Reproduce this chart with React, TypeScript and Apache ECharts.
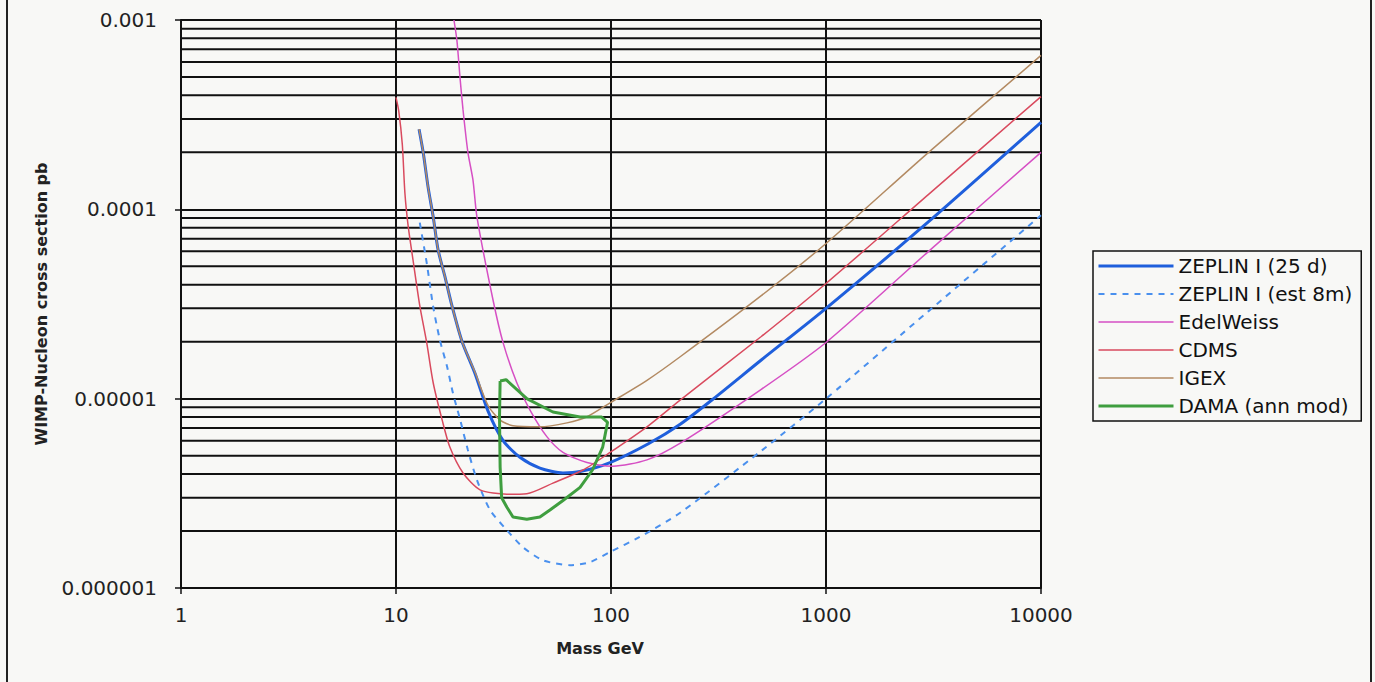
import React, { useEffect, useRef } from "react";
import * as echarts from "echarts";

// Axis tick values
const xTicks = [1, 10, 100, 1000, 10000];
const yTicks = [0.000001, 0.00001, 0.0001, 0.001];
const minorDecades = [0.000001, 0.00001, 0.0001];
const minorMultipliers = [2, 3, 4, 5, 6, 7, 8, 9];

const seriesNames = [
  "ZEPLIN I (25 d)",
  "ZEPLIN I (est 8m)",
  "EdelWeiss",
  "CDMS",
  "IGEX",
  "DAMA (ann mod)",
];

// [mass GeV, cross section pb]
const zeplin25d = [
  [12.8, 2.65e-4], [13.4, 1.98e-4], [14.1, 1.31e-4], [14.9, 9.1e-5], [15.7, 6.1e-5],
  [16.9, 4.4e-5], [18.2, 3.1e-5], [20.3, 2.0e-5], [23.3, 1.36e-5], [26.8, 8.6e-6],
  [31.5, 6.0e-6], [37.7, 4.9e-6], [46.7, 4.3e-6], [59.8, 4.05e-6], [71.8, 4.12e-6],
  [99, 4.6e-6], [150, 5.8e-6], [209, 7.3e-6], [300, 1.0e-5], [500, 1.6e-5],
  [1000, 3.0e-5], [3000, 8.6e-5], [10000, 2.88e-4],
];

const zeplin8m = [
  [12.9, 8.5e-5], [13.9, 5.2e-5], [14.9, 3.05e-5], [16.0, 2.04e-5], [17.3, 1.47e-5],
  [18.4, 1.07e-5], [19.9, 7.7e-6], [21.6, 5.35e-6], [23.8, 3.72e-6], [27.4, 2.58e-6],
  [32.8, 2.02e-6], [39.0, 1.64e-6], [48.3, 1.4e-6], [64.5, 1.32e-6], [79.9, 1.37e-6],
  [99, 1.55e-6], [136, 1.86e-6], [209, 2.49e-6], [500, 5.3e-6], [1000, 1.0e-5],
  [3000, 2.9e-5], [10000, 9.3e-5],
];

const edelweiss = [
  [18.6, 1.0e-3], [19.2, 7.8e-4], [19.9, 4.8e-4], [20.5, 3.35e-4], [21.6, 2.0e-4],
  [22.8, 1.43e-4], [23.8, 9.1e-5], [28.3, 3.3e-5], [31.5, 1.97e-5], [36.5, 1.21e-5],
  [42.0, 8.7e-6], [50.3, 6.3e-6], [59.8, 5.2e-6], [77.3, 4.6e-6], [102, 4.4e-6],
  [147, 4.75e-6], [209, 5.8e-6], [500, 1.12e-5], [1000, 1.98e-5], [3000, 6.0e-5],
  [10000, 2.0e-4],
];

const cdms = [
  [10.0, 3.9e-4], [10.3, 3.3e-4], [10.7, 2.2e-4], [11.0, 1.22e-4], [11.4, 8.1e-5],
  [12.0, 5.4e-5], [12.9, 3.1e-5], [13.9, 1.97e-5], [14.9, 1.21e-5], [16.4, 7.7e-6],
  [17.8, 5.55e-6], [20.5, 4.05e-6], [24.6, 3.3e-6], [32.8, 3.13e-6], [40.6, 3.15e-6],
  [53.7, 3.58e-6], [74.1, 4.2e-6], [99, 5.2e-6], [147, 7.1e-6], [209, 9.8e-6],
  [500, 2.13e-5], [1000, 4.06e-5], [3000, 1.2e-4], [10000, 3.94e-4],
];

const igex = [
  [12.8, 2.65e-4], [13.4, 1.98e-4], [14.1, 1.31e-4], [14.9, 9.1e-5], [15.7, 6.1e-5],
  [16.9, 4.4e-5], [18.2, 3.1e-5], [20.3, 2.0e-5], [23.3, 1.38e-5], [26.8, 9.2e-6],
  [30.5, 7.7e-6], [35, 7.2e-6], [46.7, 7.1e-6], [62.4, 7.45e-6], [77, 8.0e-6],
  [99, 9.5e-6], [147, 1.25e-5], [209, 1.66e-5], [500, 3.5e-5], [1000, 6.6e-5],
  [3000, 2.0e-4], [10000, 6.5e-4],
];

const dama = [
  [30.5, 1.24e-5], [32.5, 1.26e-5], [40.6, 1.0e-5], [53.7, 8.5e-6], [71.8, 8.0e-6],
  [90.5, 8.0e-6], [96.4, 7.5e-6], [91.5, 5.55e-6], [82, 4.2e-6], [71.8, 3.4e-6],
  [59.8, 2.9e-6], [52, 2.58e-6], [46.7, 2.37e-6], [40.6, 2.31e-6], [35, 2.37e-6],
  [32.8, 2.67e-6], [31, 3.0e-6], [30.5, 4.35e-6], [30.3, 8.0e-6], [30.5, 1.24e-5],
];

const FONT = "DejaVu Sans";
const GRID_W = 2;

export default function App() {
  const ref = useRef<HTMLDivElement>(null);

  useEffect(() => {
    const chart = echarts.init(ref.current as HTMLDivElement, null, { renderer: "svg" });
    const xMin = xTicks[0];
    const xMax = xTicks[xTicks.length - 1];
    // Minor horizontal gridlines (2..9 of each decade), drawn through the axes
    const minorGridSeries = minorDecades.flatMap((d) =>
      minorMultipliers.map((m) => {
        const v = Number((d * m).toPrecision(3));
        return {
          type: "line",
          name: "grid-" + v,
          data: [[xMin, v], [xMax, v]],
          showSymbol: false,
          symbol: "none",
          silent: true,
          z: 1,
          lineStyle: { color: "#111", width: GRID_W },
          emphasis: { disabled: true },
          tooltip: { show: false },
        };
      })
    );
    const lineBase = {
      type: "line",
      showSymbol: false,
      symbol: "none",
      clip: true,
      z: 3,
    };
    chart.setOption({
      animation: false,
      backgroundColor: "#f8f8f6",
      textStyle: { fontFamily: FONT },
      grid: { left: 181, right: 334, top: 20, bottom: 94, containLabel: false },
      legend: {
        data: seriesNames,
        orient: "vertical",
        left: 1093,
        top: 251,
        itemWidth: 75,
        itemHeight: 14,
        itemGap: 8,
        padding: [5, 9, 5, 4],
        borderColor: "#111",
        borderWidth: 1.5,
        backgroundColor: "#f8f8f6",
        selectedMode: false,
        itemStyle: { opacity: 0 },
        lineStyle: { width: "inherit" },
        textStyle: { fontFamily: FONT, fontSize: 20, color: "#111" },
      },
      xAxis: {
        type: "log",
        logBase: 10,
        min: xMin,
        max: xMax,
        name: "Mass GeV",
        nameLocation: "middle",
        nameGap: 52,
        nameTextStyle: {
          fontFamily: FONT,
          fontSize: 16,
          fontWeight: "bold",
          color: "#222",
          padding: [0, 22, 0, 0],
        },
        axisLine: { show: true, lineStyle: { color: "#111", width: GRID_W } },
        axisTick: { show: true, inside: false, length: 6, lineStyle: { color: "#111", width: 1.5 } },
        axisLabel: {
          margin: 17,
          fontFamily: FONT,
          fontSize: 20,
          color: "#222",
          formatter: (v: number) => String(Math.round(v)),
        },
        splitLine: { show: true, lineStyle: { color: "#111", width: GRID_W } },
        minorTick: { show: false },
        minorSplitLine: { show: false },
      },
      yAxis: {
        type: "log",
        logBase: 10,
        min: yTicks[0],
        max: yTicks[yTicks.length - 1],
        name: "WIMP-Nucleon cross section pb",
        nameLocation: "middle",
        nameGap: 132,
        nameTextStyle: { fontFamily: FONT, fontSize: 16, fontWeight: "bold", color: "#222" },
        axisLine: { show: true, lineStyle: { color: "#111", width: GRID_W } },
        axisTick: { show: true, inside: false, length: 6, lineStyle: { color: "#111", width: 1.5 } },
        axisLabel: {
          margin: 24,
          fontFamily: FONT,
          fontSize: 20,
          color: "#222",
          formatter: (v: number) => {
            const e = Math.round(Math.log10(v));
            return v.toFixed(Math.max(0, -e));
          },
        },
        splitLine: { show: true, lineStyle: { color: "#111", width: GRID_W } },
        minorTick: { show: false },
        minorSplitLine: { show: false },
      },
      graphic: [
        { type: "line", shape: { x1: 7, y1: 0, x2: 7, y2: 682 }, style: { stroke: "#222", lineWidth: 2 } },
        { type: "line", shape: { x1: 1371, y1: 0, x2: 1371, y2: 682 }, style: { stroke: "#222", lineWidth: 2 } },
      ],
      series: [
        ...minorGridSeries,
        {
          ...lineBase,
          name: seriesNames[0],
          data: zeplin25d,
          smooth: 0.25,
          color: "#1f5fdc",
          lineStyle: { color: "#1f5fdc", width: 3 },
        },
        {
          ...lineBase,
          name: seriesNames[1],
          data: zeplin8m,
          smooth: 0.25,
          color: "#4a90ee",
          lineStyle: { color: "#4a90ee", width: 2, type: [6, 6] },
        },
        {
          ...lineBase,
          name: seriesNames[2],
          data: edelweiss,
          smooth: 0.25,
          color: "#d64fc4",
          lineStyle: { color: "#d64fc4", width: 1.5 },
        },
        {
          ...lineBase,
          name: seriesNames[3],
          data: cdms,
          smooth: 0.25,
          color: "#d94a5e",
          lineStyle: { color: "#d94a5e", width: 1.5 },
        },
        {
          ...lineBase,
          name: seriesNames[4],
          data: igex,
          smooth: 0.25,
          color: "#b38a62",
          lineStyle: { color: "#b38a62", width: 1.5 },
        },
        {
          ...lineBase,
          name: seriesNames[5],
          data: dama,
          smooth: false,
          color: "#3f9e3f",
          lineStyle: { color: "#3f9e3f", width: 3 },
        },
      ],
    });
    return () => chart.dispose();
  }, []);

  return (
    <div
      ref={ref}
      style={{ position: "fixed", left: 0, top: 0, width: 1375, height: 682 }}
    />
  );
}
